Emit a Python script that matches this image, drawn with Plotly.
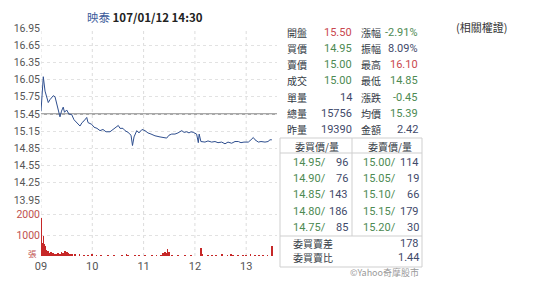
import plotly.graph_objects as go

# ---------------- data ----------------
price_min = [0, 2.7, 4.7, 8.5, 10.5, 14.4, 16.4, 18.7, 22.2, 24, 26, 27.5, 30, 32.7, 35.9, 38.6,
             42, 45.6, 48, 50.3, 53.5, 55, 59.3, 62, 65.5, 69, 72.5, 76, 80.7, 84.2, 87.7, 90.4,
             92.4, 95.9, 98.2, 101.8, 105.3, 107, 108.8, 112, 114.6, 118.1, 121.6, 125.1, 128.7,
             133.3, 139.2, 142.7, 147, 149.7, 152.9, 156.7, 160.2, 164.6, 167.3, 170.4, 173.1,
             175.4, 178.1, 182, 184, 185, 187, 191.8, 195.3, 199.6, 203.5, 207, 211.3, 215.2,
             218.7, 223, 226.9, 230.8, 233.9, 237.4, 242.5, 245.6, 248.3, 250.3, 254.2, 257.3,
             262, 265.5, 267.8, 270]
price_val = [15.50, 16.10, 15.85, 15.65, 15.70, 15.77, 15.75, 15.60, 15.40, 15.50, 15.57, 15.48,
             15.52, 15.45, 15.44, 15.35, 15.30, 15.24, 15.30, 15.33, 15.39, 15.30, 15.27, 15.22,
             15.20, 15.16, 15.18, 15.14, 15.14, 15.18, 15.22, 15.25, 15.20, 15.20, 15.16, 15.13,
             15.08, 14.90, 15.05, 15.16, 15.12, 15.18, 15.16, 15.12, 15.10, 15.07, 15.05, 15.04,
             15.03, 15.08, 15.10, 15.10, 15.12, 15.16, 15.13, 15.14, 15.12, 15.14, 15.13, 15.10,
             14.95, 15.10, 14.97, 14.96, 14.98, 14.96, 14.97, 14.95, 14.96, 14.93, 14.96, 14.94,
             14.97, 14.97, 14.95, 14.96, 14.96, 15.00, 15.04, 15.00, 14.96, 14.97, 14.96, 14.97,
             15.00, 15.00]

vol_min = [0, 1, 2, 3, 4, 5, 6, 7, 8, 10, 12, 14, 16, 18, 20, 22, 24, 26, 28, 30, 32, 34, 36, 40,
           45, 50, 55, 60, 65, 70, 78, 85, 95, 100, 102, 110, 115, 122, 130, 135, 140, 143, 145,
           146, 148, 150, 153, 160, 168, 175, 187, 188, 195, 200, 205, 212, 218, 222, 225, 230,
           236, 240, 245, 250, 255, 260, 265, 270]
vol_val = [1800, 600, 400, 970, 550, 480, 300, 200, 250, 150, 200, 120, 100, 80, 150, 100, 200,
           150, 250, 200, 150, 100, 80, 60, 50, 40, 30, 60, 40, 30, 40, 30, 20, 60, 30, 40, 30,
           20, 30, 20, 30, 120, 200, 150, 320, 180, 40, 30, 30, 20, 400, 80, 30, 40, 30, 50, 30,
           60, 40, 30, 40, 30, 50, 30, 40, 30, 40, 500]

prev_close = 15.45
price_ticks = [13.95, 14.25, 14.55, 14.85, 15.15, 15.45, 15.75, 16.05, 16.35, 16.65, 16.95]
vol_ticks = [1000, 2000]
vol_ticktext = ["1000", "2000"]
vol_unit = "張"
hour_ticks = [0, 60, 120, 180, 240]
hour_text = ["09", "10", "11", "12", "13"]

title_name = "映泰"
title_time = "107/01/12 14:30"

info_rows = [
    ("開盤", "15.50", "red", "漲幅", "-2.91%", "green"),
    ("買價", "14.95", "green", "振幅", "8.09%", "neutral"),
    ("賣價", "15.00", "green", "最高", "16.10", "red"),
    ("成交", "15.00", "green", "最低", "14.85", "green"),
    ("單量", "14", "neutral", "漲跌", "-0.45", "green"),
    ("總量", "15756", "neutral", "均價", "15.39", "green"),
    ("昨量", "19390", "neutral", "金額", "2.42", "neutral"),
]
bid_price = ["14.95/", "14.90/", "14.85/", "14.80/", "14.75/"]
bid_qty = ["96", "76", "143", "186", "85"]
ask_price = ["15.00/", "15.05/", "15.10/", "15.15/", "15.20/"]
ask_qty = ["114", "19", "66", "179", "30"]
summary = [("委買賣差", "178"), ("委買賣比", "1.44")]

# ---------------- layout geometry ----------------
W, H = 550, 286
L, R, T, B = 41, 277, 28, 256
PW, PH = R - L, B - T

def px(x):
    return (x - L) / PW

def py(y):
    return (B - y) / PH

COL = {"red": "#c9474e", "green": "#4d8a52", "neutral": "#3f4a6a"}
LABEL = "#333a44"
NUM = "Roboto, Noto Sans, sans-serif"
CJK = "Noto Sans CJK TC, sans-serif"

fig = go.Figure()
fig.add_trace(go.Bar(x=vol_min, y=vol_val, yaxis="y2", marker_color="#c62828",
                     marker_line_width=0, width=0.9, showlegend=False))
fig.add_trace(go.Scatter(x=price_min, y=price_val, mode="lines", yaxis="y",
                         line=dict(color="#2f4f8f", width=1), showlegend=False))

shapes = []
for h in hour_ticks:
    shapes.append(dict(type="line", xref="x", yref="paper", x0=h, x1=h, y0=0, y1=1,
                       line=dict(color="#dcdcdc", width=1, dash="3px,3px"), layer="below"))
shapes.append(dict(type="line", xref="paper", yref="y", x0=0, x1=1, y0=prev_close, y1=prev_close,
                   line=dict(color="#a8a8a8", width=2), layer="below"))
box_line = dict(color="#cfcfcf", width=1)
shapes += [
    dict(type="rect", xref="paper", yref="paper", x0=px(280), x1=px(422), y0=py(267), y1=py(138),
         line=box_line),
    dict(type="line", xref="paper", yref="paper", x0=px(280), x1=px(422), y0=py(153), y1=py(153),
         line=box_line),
    dict(type="line", xref="paper", yref="paper", x0=px(280), x1=px(422), y0=py(236), y1=py(236),
         line=box_line),
    dict(type="line", xref="paper", yref="paper", x0=px(352), x1=px(352), y0=py(138), y1=py(236),
         line=box_line),
]

ann = []

def txt(x, y, s, color=LABEL, size=11, anchor="left", family=NUM):
    ann.append(dict(x=px(x), y=py(y), xref="paper", yref="paper", text=s, showarrow=False,
                    xanchor=anchor, yanchor="middle", font=dict(size=size, color=color, family=family)))

ann.append(dict(x=px(145), y=py(17), xref="paper", yref="paper", showarrow=False,
                xanchor="center", yanchor="middle",
                text=f"<span style='color:#3b5b9a'>{title_name}</span> <b>{title_time}</b>",
                font=dict(size=11.5, color="#222", family=CJK)))
txt(481, 27, "(相關權證)", color="#333", size=11, anchor="center", family=CJK)
txt(39, 253, vol_unit, color="#c0504d", size=8.5, anchor="right", family=CJK)

row_y = [32, 48, 64, 81, 97, 113, 129]
for (l1, v1, c1, l2, v2, c2), yy in zip(info_rows, row_y):
    txt(285, yy, l1, size=10, family=CJK)
    txt(354, yy, v1, color=COL[c1], anchor="right")
    txt(359, yy, l2, size=10, family=CJK)
    txt(420, yy, v2, color=COL[c2], anchor="right")

txt(317, 146, "委買價/量", size=10, anchor="center", family=CJK)
txt(390, 146, "委賣價/量", size=10, anchor="center", family=CJK)
ob_y = [162, 178, 194, 211, 227]
for i, yy in enumerate(ob_y):
    txt(291, yy, bid_price[i], color=COL["green"])
    txt(350, yy, bid_qty[i], color=COL["neutral"], anchor="right")
    txt(361, yy, ask_price[i], color=COL["green"])
    txt(421, yy, ask_qty[i], color=COL["neutral"], anchor="right")
for (lab, val), yy in zip(summary, [243, 257]):
    txt(291, yy, lab, size=10, family=CJK)
    txt(421, yy, val, color=COL["neutral"], anchor="right")
txt(421, 272, "©Yahoo奇摩股市", color="#9a9a9a", size=9, anchor="right", family=CJK)

fig.update_layout(
    width=W, height=H, margin=dict(l=L, r=W - R, t=T, b=H - B),
    paper_bgcolor="white", plot_bgcolor="white", bargap=0,
    shapes=shapes, annotations=ann,
    xaxis=dict(range=[0, (R - L) / 0.855], tickvals=hour_ticks, ticktext=hour_text,
               showgrid=False, zeroline=False, showline=False, anchor="y2",
               tickfont=dict(size=11, color="#555", family=NUM), ticks="", ticklabelstandoff=2),
    yaxis=dict(domain=[py(200), 1], range=[13.95, 16.95], tickvals=price_ticks,
               ticktext=[f"{v:.2f}" for v in price_ticks], showgrid=True,
               gridcolor="#e2e2e2", griddash="3px,3px", zeroline=False, showline=False,
               tickfont=dict(size=10.5, color="#555", family=NUM), ticks=""),
    yaxis2=dict(domain=[0, py(205)], range=[0, 2000 * 51 / 42], tickvals=vol_ticks,
                ticktext=vol_ticktext, showgrid=True, gridcolor="#e2e2e2", griddash="3px,3px",
                zeroline=False, showline=False,
                tickfont=dict(size=10.5, color="#c0504d", family=NUM), ticks=""),
)

fig.write_html("out.html")
